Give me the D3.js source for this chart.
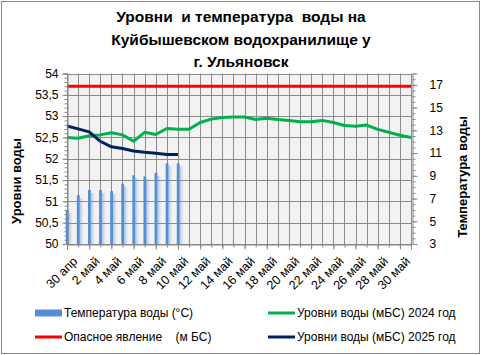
<!DOCTYPE html>
<html><head><meta charset="utf-8">
<script src="https://cdn.jsdelivr.net/npm/d3@7"></script>
<style>
html,body{margin:0;padding:0;background:#fff;}
svg{display:block;font-family:"Liberation Sans",Arial,sans-serif;}
text{white-space:pre;}
</style></head>
<body>
<svg id="chart" width="481" height="355"></svg>
<script>
const dates = ["30 апр","1 май","2 май","3 май","4 май","5 май","6 май","7 май","8 май","9 май","10 май",
"11 май","12 май","13 май","14 май","15 май","16 май","17 май","18 май","19 май","20 май","21 май",
"22 май","23 май","24 май","25 май","26 май","27 май","28 май","29 май","30 май","31 май"];
const tempValues = [6.0, 7.3, 7.75, 7.75, 7.65, 8.3, 9.05, 8.95, 9.25, 10.1, 10.1];
const level2025 = [52.77, 52.70, 52.63, 52.41, 52.28, 52.24, 52.18, 52.15, 52.13, 52.10, 52.10];
const level2024 = [52.50,52.48,52.54,52.56,52.61,52.56,52.41,52.62,52.57,52.71,52.69,52.69,52.85,52.93,52.97,52.98,
52.98,52.92,52.95,52.92,52.90,52.87,52.87,52.90,52.85,52.78,52.76,52.79,52.69,52.62,52.55,52.50];
const dangerLevel = 53.7;
const leftTicks = [50,50.5,51,51.5,52,52.5,53,53.5,54];
const rightTicks = [3,5,7,9,11,13,15,17];
const titleLines = ["Уровни  и температура  воды на","Куйбышевском водохранилище у","г. Ульяновск"];
const legendItems = [
  {label:"Температура воды (°С)", type:"bar", color:"#558ed5"},
  {label:"Уровни воды (мБС) 2024 год", type:"line", color:"#00b050"},
  {label:"Опасное явление    (м БС)", type:"line", color:"#ff0000"},
  {label:"Уровни воды (мБС) 2025 год", type:"line", color:"#002060"}
];

const svg = d3.select("#chart");
const L = 67, R = 411, T = 73.5, B = 244;

// border
svg.append("rect").attr("x",1.5).attr("y",1.5).attr("width",478).attr("height",352)
  .attr("fill","#fff").attr("stroke","#868686").attr("stroke-width",1);

const x = d3.scalePoint().domain(dates).range([L,R]);
const yL = d3.scaleLinear().domain([50,54]).range([B,T]);
const yR = d3.scaleLinear().domain([3,18]).range([B,T]);

// plot bg
svg.append("rect").attr("x",L).attr("y",T).attr("width",R-L).attr("height",B-T).attr("fill","#f2f2f2");

// grid
const g = svg.append("g");
g.selectAll("line.h").data(leftTicks).join("line")
  .attr("x1",L).attr("x2",R+1).attr("y1",d=>Math.round(yL(d))+0.5).attr("y2",d=>Math.round(yL(d))+0.5)
  .attr("stroke","#8c8c8c").attr("stroke-width",1);
g.selectAll("line.v").data(dates).join("line")
  .attr("x1",d=>Math.round(x(d))+0.5).attr("x2",d=>Math.round(x(d))+0.5).attr("y1",T).attr("y2",B)
  .attr("stroke","#8c8c8c").attr("stroke-width",1);

// bars
const defs = svg.append("defs");
const grad = defs.append("linearGradient").attr("id","glow").attr("x1","0").attr("x2","1").attr("y1","0").attr("y2","0");
grad.append("stop").attr("offset","0%").attr("stop-color","#558ed5").attr("stop-opacity",0.45);
grad.append("stop").attr("offset","100%").attr("stop-color","#558ed5").attr("stop-opacity",0);
const barData = tempValues.map((v,i)=>({d:dates[i],v}));
svg.append("g").selectAll("rect.glow").data(barData).join("rect")
  .attr("x",d=>x(d.d)+1.5).attr("y",d=>yR(d.v)+3).attr("width",4).attr("height",d=>B-yR(d.v)-3)
  .attr("fill","url(#glow)");
svg.append("g").selectAll("rect.bar").data(barData).join("rect")
  .attr("x",d=>x(d.d)-1.2).attr("y",d=>yR(d.v)).attr("width",2.8).attr("height",d=>B-yR(d.v))
  .attr("fill","#558ed5");

// lines
const line = d3.line().x(d=>x(d.d)).y(d=>yL(d.v));
svg.append("path").datum(dates.map(d=>({d,v:dangerLevel})))
  .attr("d",line).attr("fill","none").attr("stroke","#ff0000").attr("stroke-width",3);
svg.append("path").datum(level2024.map((v,i)=>({d:dates[i],v})))
  .attr("d",line).attr("fill","none").attr("stroke","#00b050").attr("stroke-width",3).attr("stroke-linejoin","round");
svg.append("path").datum(level2025.map((v,i)=>({d:dates[i],v})))
  .attr("d",line).attr("fill","none").attr("stroke","#002060").attr("stroke-width",3).attr("stroke-linejoin","round");

// left axis
const axL = svg.append("g").attr("transform",`translate(${L+0.5},0)`)
  .call(d3.axisLeft(yL).tickValues(leftTicks).tickFormat(d=>String(d).replace(".",",")).tickSize(5).tickPadding(4));
svg.append("g").attr("transform",`translate(${L+0.5},0)`)
  .call(d3.axisLeft(yL).tickValues(d3.range(50,54.001,0.1)).tickFormat("").tickSize(3))
  .select(".domain").remove();
// right axis
const axR = svg.append("g").attr("transform",`translate(${R+1.5},0)`)
  .call(d3.axisRight(yR).tickValues(rightTicks).tickSize(5).tickPadding(12));
svg.append("g").attr("transform",`translate(${R+1.5},0)`)
  .call(d3.axisRight(yR).tickValues(d3.range(3,18.001,0.5)).tickFormat("").tickSize(3))
  .select(".domain").remove();
// bottom axis
const axB = svg.append("g").attr("transform",`translate(0,${B+0.5})`)
  .call(d3.axisBottom(x).tickValues(dates.filter((d,i)=>i%2===0)).tickSize(5).tickPadding(0));
svg.append("g").attr("transform",`translate(0,${B+0.5})`)
  .call(d3.axisBottom(x).tickFormat("").tickSize(3)).select(".domain").remove();

svg.selectAll(".domain").attr("stroke","#868686");
svg.selectAll(".tick line").attr("stroke","#868686");
[axL,axR].forEach(a=>a.selectAll("text").attr("font-size",12).attr("fill","#000").attr("font-family","Liberation Sans, Arial, sans-serif"));
axB.selectAll("text").attr("font-size",12.5).attr("fill","#000").attr("font-family","Liberation Sans, Arial, sans-serif")
  .attr("text-anchor","end").attr("dy","0.35em")
  .attr("transform","translate(4,11) rotate(-45)");

// axis titles
svg.append("text").attr("transform","translate(21,181) rotate(-90)").attr("text-anchor","middle")
  .attr("font-weight","bold").attr("font-size",13).text("Уровни воды");
svg.append("text").attr("transform","translate(467,177) rotate(-90)").attr("text-anchor","middle")
  .attr("font-weight","bold").attr("font-size",13).text("Температура воды");

// title
svg.append("g").selectAll("text").data(titleLines).join("text")
  .attr("x",241).attr("y",(d,i)=>22+i*22.5).attr("text-anchor","middle")
  .attr("font-weight","bold").attr("font-size",15.5).text(d=>d);

// legend
const legPos = [[35,313],[268,313],[35,337],[268,337]];
const lg = svg.append("g").selectAll("g").data(legendItems).join("g")
  .attr("transform",(d,i)=>`translate(${legPos[i][0]},${legPos[i][1]})`);
lg.filter(d=>d.type==="bar").append("rect").attr("x",0).attr("y",-3.5).attr("width",27).attr("height",7).attr("fill",d=>d.color);
lg.filter(d=>d.type==="line").append("line").attr("x1",0).attr("x2",27).attr("y1",0).attr("y2",0)
  .attr("stroke",d=>d.color).attr("stroke-width",3);
lg.append("text").attr("x",29).attr("y",0).attr("dy","0.35em").attr("font-size",12).text(d=>d.label);
</script>
</body></html>
